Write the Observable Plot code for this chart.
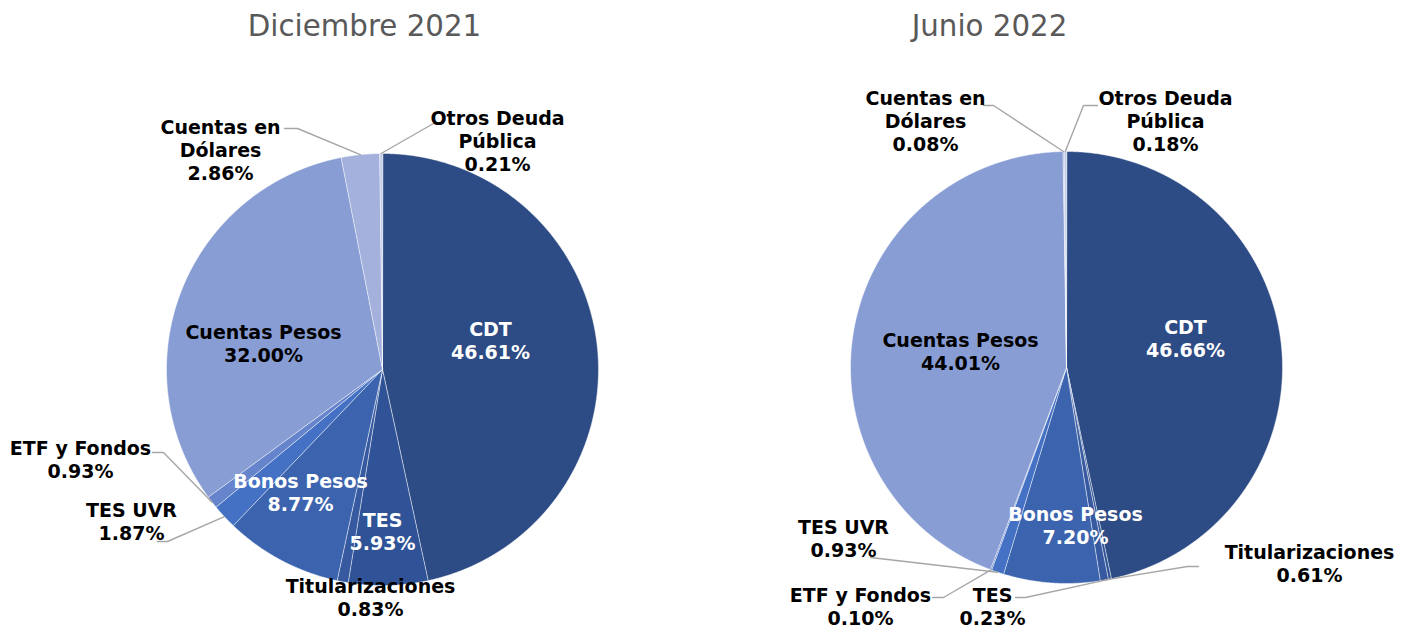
<!DOCTYPE html>
<html><head><meta charset="utf-8">
<script src="https://cdn.jsdelivr.net/npm/d3@7"></script>
<script src="https://cdn.jsdelivr.net/npm/@observablehq/plot@0.6"></script>
<style>html,body{margin:0;padding:0;background:#fff;overflow:hidden;}</style>
</head><body><div id="chart"></div>
<script>
// ---- data ----
const categories = ["CDT","TES","Titularizaciones","Bonos Pesos","TES UVR","ETF y Fondos","Cuentas Pesos","Cuentas en Dólares","Otros Deuda Pública"];
const labelNames = ["CDT","TES","Titularizaciones","Bonos Pesos","TES UVR","ETF y Fondos","Cuentas Pesos","Cuentas en\nDólares","Otros Deuda\nPública"];
const periods = ["Diciembre 2021","Junio 2022"];
const valuesDic2021 = [46.61,5.93,0.83,8.77,1.87,0.93,32.00,2.86,0.21];
const valuesJun2022 = [46.66,0.23,0.61,7.20,0.93,0.10,44.01,0.08,0.18];
const sliceColors = ["#2D4B84","#2F5396","#36599F","#3C64AE","#4471C3","#6584CB","#889DD4","#A3B1DC","#C3CCE8"];
const whiteLabels = ["CDT","TES","Bonos Pesos"];

// ---- layout (pixel units; x/y scales are identity-sized) ----
const pies = [
  {cx:382, cy:369, r:216, title:[364,26],
   labels:{"CDT":[108,-29],"TES":[0,162],"Titularizaciones":[-12,228],"Bonos Pesos":[-82,123],"TES UVR":[-251,152],"ETF y Fondos":[-302,90],"Cuentas Pesos":[-119,-26],"Cuentas en Dólares":[-162,-220],"Otros Deuda Pública":[115,-229]},
   inside:["CDT","TES","Bonos Pesos","Cuentas Pesos","Titularizaciones"],
   leaders:{"TES UVR":[[157,541],[167,541]],"ETF y Fondos":[[152,452],[163,452]],"Cuentas en Dólares":[[284,128],[297,128]],"Otros Deuda Pública":[[443,123],[433,123]]}},
  {cx:1066, cy:367, r:216, title:[989,26],
   labels:{"CDT":[119,-29],"TES":[-74,239],"Titularizaciones":[243,196],"Bonos Pesos":[9,158],"TES UVR":[-223,171],"ETF y Fondos":[-206,239],"Cuentas Pesos":[-106,-16],"Cuentas en Dólares":[-141,-247],"Otros Deuda Pública":[99,-247]},
   inside:["CDT","Bonos Pesos","Cuentas Pesos"],
   leaders:{"TES UVR":[[870,557],[870,557]],"ETF y Fondos":[[932,597],[943,597]],"TES":[[1015,597],[1025,597]],"Titularizaciones":[[1198,566],[1187,566]],"Cuentas en Dólares":[[983,105],[993,105]],"Otros Deuda Pública":[[1097,105],[1083,105]]}}
];
const seriesValues = [valuesDic2021, valuesJun2022];

const fmt = v => v.toFixed(2) + "%";
const pieGen = d3.pie().sort(null).value(d => d.value).startAngle(0).endAngle(2*Math.PI);

const slicePts = [], labelRows = [], leaderPts = [], titleRows = [];
pies.forEach((p, pi) => {
  const rows = categories.map((c, i) => ({cat:c, name:labelNames[i], value:seriesValues[pi][i]}));
  const arcs = pieGen(rows);
  titleRows.push({text:periods[pi], x:p.title[0], y:p.title[1]});
  arcs.forEach(a => {
    const key = pi + "|" + a.data.cat;
    slicePts.push({key, cat:a.data.cat, x:p.cx, y:p.cy});
    const n = Math.max(2, Math.ceil((a.endAngle - a.startAngle) / 0.004));
    for (let k = 0; k <= n; k++) {
      const t = a.startAngle + (a.endAngle - a.startAngle) * k / n;
      slicePts.push({key, cat:a.data.cat, x:p.cx + p.r*Math.sin(t), y:p.cy - p.r*Math.cos(t)});
    }
    const off = p.labels[a.data.cat];
    labelRows.push({cat:a.data.cat, x:p.cx + off[0], y:p.cy + off[1],
      text:a.data.name + "\n" + fmt(a.data.value),
      white: whiteLabels.includes(a.data.cat) && p.inside.includes(a.data.cat)});
    const ld = p.leaders[a.data.cat];
    if (ld) {
      const mid = (a.startAngle + a.endAngle) / 2;
      leaderPts.push({key, x:ld[0][0], y:ld[0][1]});
      leaderPts.push({key, x:ld[1][0], y:ld[1][1]});
      leaderPts.push({key, x:p.cx + p.r*Math.sin(mid), y:p.cy - p.r*Math.cos(mid)});
    }
  });
});

const chart = Plot.plot({
  width:1410, height:629,
  margin:0,
  x:{domain:[0,1410], range:[0,1410], axis:null},
  y:{domain:[0,629], range:[0,629], axis:null},
  color:{domain:categories, range:sliceColors},
  style:{fontFamily:"'DejaVu Sans', Verdana, sans-serif", background:"#fff"},
  marks:[
    Plot.line(slicePts, {x:"x", y:"y", z:"key", fill:"cat", stroke:"white", strokeWidth:0.5, curve:"linear-closed"}),
    Plot.line(leaderPts, {x:"x", y:"y", z:"key", stroke:"#A6A6A6", strokeWidth:1.4}),
    Plot.text(labelRows.filter(d => d.white), {x:"x", y:"y", text:"text", fill:"white", fontSize:19, fontWeight:"bold", lineHeight:1.2}),
    Plot.text(labelRows.filter(d => !d.white), {x:"x", y:"y", text:"text", fill:"black", fontSize:19, fontWeight:"bold", lineHeight:1.2}),
    Plot.text(titleRows, {x:"x", y:"y", text:"text", fill:"#595959", fontSize:29.3})
  ]
});
document.getElementById("chart").appendChild(chart);
</script>
</body></html>
